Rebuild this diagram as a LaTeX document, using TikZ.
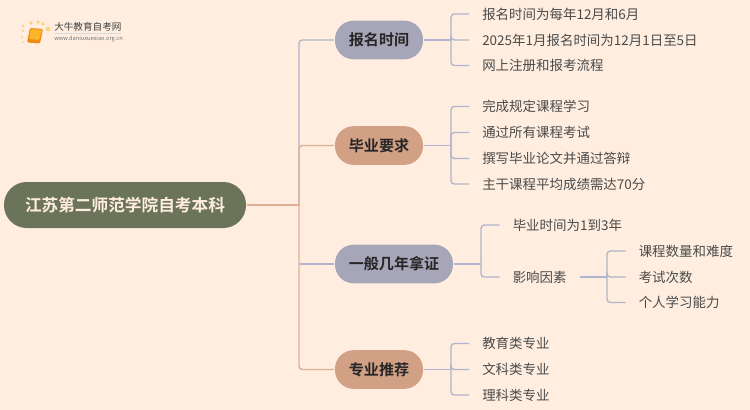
\documentclass[tikz,border=0pt]{standalone}
\usepackage{fontspec}
\setmainfont{Noto Sans CJK SC}[BoldFont={Noto Sans CJK SC Bold}]
\definecolor{paper}{HTML}{FFEEE0}
\definecolor{rootfill}{HTML}{6B7359}
\definecolor{bluefill}{HTML}{A6A6B8}
\definecolor{sandfill}{HTML}{D2A085}
\definecolor{bluelink}{HTML}{B0B4CC}
\definecolor{sandlink}{HTML}{DFAF95}
\definecolor{leaftext}{HTML}{4A4A4A}
\definecolor{booklight}{HTML}{FBB62C}
\definecolor{bookdark}{HTML}{EF8A16}
\definecolor{sundot}{HTML}{FBD274}
\begin{document}
\begin{tikzpicture}[
    x=0.75pt, y=-0.75pt,
    root/.style={rounded corners=17pt, fill=rootfill, text=paper, font=\fontsize{12.5pt}{14pt}\selectfont\bfseries, minimum width=181.5pt, minimum height=34.5pt, inner sep=0pt, outer sep=0.7pt},
    branch/.style={rounded corners=14pt, text=black!85, font=\fontsize{11.3pt}{13pt}\selectfont\bfseries, minimum height=29pt, inner sep=0pt, outer sep=0.8pt},
    leaf/.style={anchor=west, text=leaftext, font=\fontsize{10.1pt}{12pt}\selectfont, inner ysep=0pt, inner xsep=9.75pt, text height=9.7pt, text depth=1.5pt},
    link/.style={draw=bluelink, line width=1pt, rounded corners=2.5pt},
    sandline/.style={draw=sandlink, line width=1.1pt, rounded corners=2.5pt}
]
    % Background
    \fill[paper] (0,0) rectangle (750,410);
    \useasboundingbox (0,0) rectangle (750,410);

    % Logo
    \foreach \dotx/\doty/\dotr in {23/26/1.4, 31/23/1.8, 38/22/1.9, 43/24/1.8, 48/29/2.2, 23/31/1.2, 22/37/1.2, 23/42/0.9}
        \fill[sundot] (\dotx,\doty) circle (\dotr);
    \fill[bookdark, rounded corners=1pt] (30,28) -- (43,29) -- (40,43.5) -- (27,42.5) -- cycle;
    \fill[booklight, rounded corners=1pt] (31,29) -- (42,30) -- (39,40) -- (29,39) -- cycle;
    \draw[gray!30, line width=0.4pt] (54,33) -- (121,33);
    \node[anchor=west, inner sep=0pt, text=black!75, font=\fontsize{7.2pt}{8pt}\selectfont] (logotitle) at (54,27) {大牛教育自考网};
    \node[anchor=west, inner sep=0pt, text=black!55, font=\fontsize{4.25pt}{5pt}\selectfont] (logourl) at (54,39) {www.daniuxuexiao.org.cn};

    % Root
    \node[root] (root) at (125,205) {江苏第二师范学院自考本科};

    % Branches
    \node[branch, fill=bluefill, minimum width=66pt] (time) at (379,40) {报名时间};
    \node[branch, fill=sandfill, minimum width=66pt] (grad) at (379,145.5) {毕业要求};
    \node[branch, fill=bluefill, minimum width=88.5pt] (years) at (394,264) {一般几年拿证};
    \node[branch, fill=sandfill, minimum width=66pt] (major) at (379,369.5) {专业推荐};

    % Leaves of the first branch
    \node[leaf] (time1) at (469,14) {报名时间为每年12月和6月};
    \node[leaf] (time2) at (469,40) {2025年1月报名时间为12月1日至5日};
    \node[leaf] (time3) at (469,65.5) {网上注册和报考流程};

    % Leaves of the second branch
    \node[leaf] (grad1) at (469,106.5) {完成规定课程学习};
    \node[leaf] (grad2) at (469,132.5) {通过所有课程考试};
    \node[leaf] (grad3) at (469,158.5) {撰写毕业论文并通过答辩};
    \node[leaf] (grad4) at (469,184) {主干课程平均成绩需达70分};

    % Leaves of the third branch
    \node[leaf] (years1) at (499.5,225) {毕业时间为1到3年};
    \node[leaf] (years2) at (499.5,277) {影响因素};
    \node[leaf] (cause1) at (625.5,251) {课程数量和难度};
    \node[leaf] (cause2) at (625.5,277) {考试次数};
    \node[leaf] (cause3) at (625.5,302.5) {个人学习能力};

    % Leaves of the fourth branch
    \node[leaf] (major1) at (469,343.5) {教育类专业};
    \node[leaf] (major2) at (469,369.5) {文科类专业};
    \node[leaf] (major3) at (469,395) {理科类专业};

    % Joints
    \coordinate (trunk) at (299,205);
    \coordinate (timejoint) at (451,40);
    \coordinate (gradjoint) at (451,145.5);
    \coordinate (yearsjoint) at (481,264);
    \coordinate (majorjoint) at (451,369.5);
    \coordinate (causejoint) at (607,277);

    % Trunk
    \draw[link] (trunk) |- (time.west);
    \draw[link] (trunk |- years.west) -- (years.west);
    \draw[sandline] (root.east) -- (trunk);
    \draw[sandline] (trunk) |- (grad.west);
    \draw[sandline] (trunk) |- (major.west);

    % First branch links
    \draw[link] (time.east) -- (timejoint);
    \foreach \leafname in {time1, time2, time3}
        \draw[link] (timejoint) |- (\leafname.west);

    % Second branch links
    \draw[link] (grad.east) -- (gradjoint);
    \foreach \leafname in {grad1, grad2, grad3, grad4}
        \draw[link] (gradjoint) |- (\leafname.west);

    % Third branch links
    \draw[link] (years.east) -- (yearsjoint);
    \foreach \leafname in {years1, years2}
        \draw[link] (yearsjoint) |- (\leafname.west);
    \draw[link] (years2.east) -- (causejoint);
    \foreach \leafname in {cause1, cause2, cause3}
        \draw[link] (causejoint) |- (\leafname.west);

    % Fourth branch links
    \draw[link] (major.east) -- (majorjoint);
    \foreach \leafname in {major1, major2, major3}
        \draw[link] (majorjoint) |- (\leafname.west);
\end{tikzpicture}
\end{document}
